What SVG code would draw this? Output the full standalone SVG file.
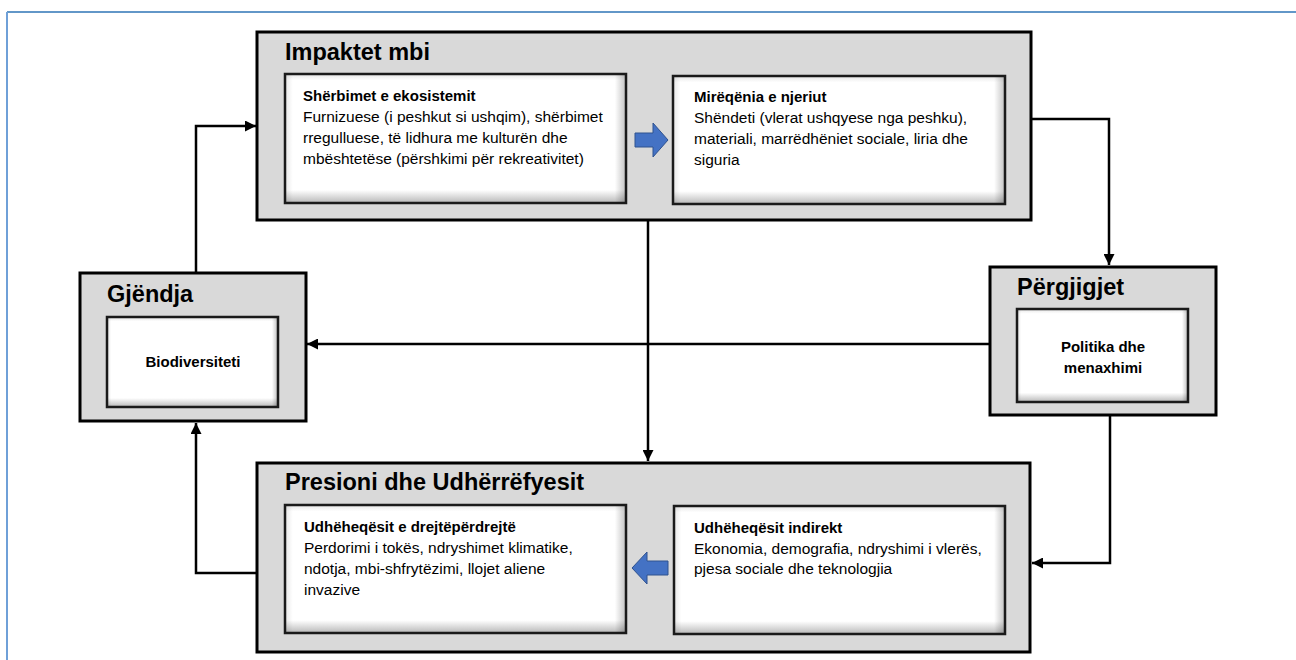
<svg xmlns="http://www.w3.org/2000/svg" width="1296" height="660" viewBox="0 0 1296 660">
<style>
.outer{fill:#d9d9d9;stroke:#000;stroke-width:3}
.innerb{fill:url(#vg);stroke:#1a1a1a;stroke-width:2.5}
.innerh{fill:url(#hg);stroke:none}
.title{font-family:"Liberation Sans",Arial,sans-serif;font-weight:bold;font-size:23.5px;fill:#000}
.hd{font-family:"Liberation Sans",Arial,sans-serif;font-weight:bold;font-size:15px;fill:#000}
.tx{font-family:"Liberation Sans",Arial,sans-serif;font-size:15.5px;fill:#000}
.ctr{text-anchor:middle}
.conn{fill:none;stroke:#000;stroke-width:2.5}
.blk{fill:#4472c4;stroke:#2f528f;stroke-width:1}
</style>
<defs>
<linearGradient id="vg" x1="0" y1="0" x2="0" y2="1">
<stop offset="0" stop-color="#e6e6e6"/>
<stop offset="0.05" stop-color="#ffffff"/>
<stop offset="0.9" stop-color="#ffffff"/>
<stop offset="1" stop-color="#b8b8b8"/>
</linearGradient>
<linearGradient id="hg" x1="0" y1="0" x2="1" y2="0">
<stop offset="0" stop-color="#000" stop-opacity="0.08"/>
<stop offset="0.02" stop-color="#000" stop-opacity="0"/>
<stop offset="0.97" stop-color="#000" stop-opacity="0"/>
<stop offset="1" stop-color="#000" stop-opacity="0.22"/>
</linearGradient>
<marker id="ah" viewBox="0 0 10 10" refX="10" refY="5" markerWidth="11" markerHeight="11" markerUnits="userSpaceOnUse" orient="auto">
<path d="M0,0 L10,5 L0,10 z" fill="#000"/>
</marker>
</defs>
<rect width="1296" height="660" fill="#fff"/>
<line x1="7" y1="12" x2="1296" y2="12" stroke="#2e75b6" stroke-width="1.5"/>
<line x1="7" y1="12" x2="7" y2="660" stroke="#6fa0d8" stroke-width="2"/>

<g id="connectors">
<path class="conn" d="M196,273 V126 H256" marker-end="url(#ah)"/>
<path class="conn" d="M1031,119 H1109 V265" marker-end="url(#ah)"/>
<path class="conn" d="M990,344 H307" marker-end="url(#ah)"/>
<path class="conn" d="M648,220 V461" marker-end="url(#ah)"/>
<path class="conn" d="M1110,415 V563 H1032" marker-end="url(#ah)"/>
<path class="conn" d="M257,573 H196 V423" marker-end="url(#ah)"/>
</g>

<g id="impaktet">
<rect class="outer" x="257" y="32" width="774" height="188"/>
<text class="title" x="285" y="60">Impaktet mbi</text>
</g>
<g id="sherbimet">
<rect class="innerb" x="285" y="74" width="341" height="129"/>
<rect class="innerh" x="286" y="75" width="339" height="127"/>
<text class="hd" x="303" y="101">Shërbimet e ekosistemit</text>
<text class="tx" x="303" y="122">Furnizuese (i peshkut si ushqim), shërbimet</text>
<text class="tx" x="303" y="143">rregulluese, të lidhura me kulturën dhe</text>
<text class="tx" x="303" y="164">mbështetëse (përshkimi për rekreativitet)</text>
</g>
<g id="mireqenia">
<rect class="innerb" x="673" y="76" width="332" height="128"/>
<rect class="innerh" x="674" y="77" width="330" height="126"/>
<text class="hd" x="694" y="102">Mirëqënia e njeriut</text>
<text class="tx" x="694" y="123">Shëndeti (vlerat ushqyese nga peshku),</text>
<text class="tx" x="694" y="144">materiali, marrëdhëniet sociale, liria dhe</text>
<text class="tx" x="694" y="165">siguria</text>
</g>

<g id="gjendja">
<rect class="outer" x="80" y="273" width="226" height="148"/>
<text class="title" x="107" y="302">Gjëndja</text>
<rect class="innerb" x="107" y="317" width="171" height="90"/>
<rect class="innerh" x="108" y="318" width="169" height="88"/>
<text class="hd ctr" x="193" y="367">Biodiversiteti</text>
</g>

<g id="pergjigjet">
<rect class="outer" x="990" y="267" width="226" height="148"/>
<text class="title" x="1017" y="295">Përgjigjet</text>
<rect class="innerb" x="1017" y="309" width="171" height="93"/>
<rect class="innerh" x="1018" y="310" width="169" height="91"/>
<text class="hd ctr" x="1103" y="352">Politika dhe</text>
<text class="hd ctr" x="1103" y="373">menaxhimi</text>
</g>

<g id="presioni">
<rect class="outer" x="257" y="463" width="773" height="189"/>
<text class="title" x="285" y="490">Presioni dhe Udhërrëfyesit</text>
</g>
<g id="direkt">
<rect class="innerb" x="285" y="505" width="341" height="128"/>
<rect class="innerh" x="286" y="506" width="339" height="126"/>
<text class="hd" x="304" y="532">Udhëheqësit e drejtëpërdrejtë</text>
<text class="tx" x="304" y="553">Perdorimi i tokës, ndryshimet klimatike,</text>
<text class="tx" x="304" y="574">ndotja, mbi-shfrytëzimi, llojet aliene</text>
<text class="tx" x="304" y="595">invazive</text>
</g>
<g id="indirekt">
<rect class="innerb" x="674" y="506" width="331" height="128"/>
<rect class="innerh" x="675" y="507" width="329" height="126"/>
<text class="hd" x="694" y="533">Udhëheqësit indirekt</text>
<text class="tx" x="694" y="554">Ekonomia, demografia, ndryshimi i vlerës,</text>
<text class="tx" x="694" y="574">pjesa sociale dhe teknologjia</text>
</g>

<g id="block-arrows">
<path class="blk" d="M635,133 H653 V123 L668,140 L653,157 V147 H635 Z"/>
<path class="blk" d="M668,561 H647 V552 L632,568 L647,584 V575 H668 Z"/>
</g>
</svg>
